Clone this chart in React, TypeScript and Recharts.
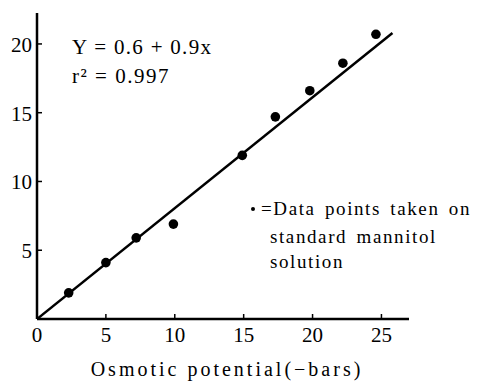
import React from "react"
import { ScatterChart, Scatter, XAxis, YAxis } from "recharts"

// Measured points (osmotic potential in -bars vs. reading)
const xValues = [2.3, 5.0, 7.2, 9.9, 14.9, 17.3, 19.8, 22.2, 24.6]
const yValues = [1.9, 4.1, 5.9, 6.9, 11.9, 14.7, 16.6, 18.6, 20.7]

// End points of the fitted line as drawn
const fitX = [0, 25.8]
const fitY = [0, 20.8]

const xTicks = [0, 5, 10, 15, 20, 25]
const yTicks = [5, 10, 15, 20]

const points = xValues.map((x, i) => ({ x, y: yValues[i] }))
const fitLine = fitX.map((x, i) => ({ x, y: fitY[i] }))

const font = "'Liberation Serif', 'DejaVu Serif', serif"

const XTick = ({ x, y, payload }: any) => (
  <g>
    <line x1={x} x2={x} y1={y} y2={y - 5} stroke="#000" strokeWidth={1.5} />
    <text x={x} y={y + 23} textAnchor="middle" fontSize={21} fontFamily={font} fill="#000">
      {payload.value}
    </text>
  </g>
)

const YTick = ({ x, y, payload }: any) => (
  <g>
    <line x1={x} x2={x + 5} y1={y} y2={y} stroke="#000" strokeWidth={1.5} />
    <text x={x - 5} y={y + 8} textAnchor="end" fontSize={21} fontFamily={font} fill="#000">
      {payload.value}
    </text>
  </g>
)

const Dot = ({ cx, cy }: any) => <circle cx={cx} cy={cy} r={4.8} fill="#000" />
const NoDot = () => <g />

export default function App() {
  return (
    <div style={{ position: "absolute", left: 0, top: 0, width: 478, height: 381, background: "#fff" }}>
      <ScatterChart width={478} height={381} margin={{ top: 13, right: 69, left: 0, bottom: 0 }}>
        <XAxis
          type="number"
          dataKey="x"
          domain={[0, 27]}
          ticks={xTicks}
          allowDataOverflow
          height={62}
          tickSize={0}
          tickMargin={0}
          tick={<XTick />}
          axisLine={{ stroke: "#000", strokeWidth: 2.5 }}
        />
        <YAxis
          type="number"
          dataKey="y"
          domain={[0, 22.25]}
          ticks={yTicks}
          allowDataOverflow
          width={37}
          tickSize={0}
          tickMargin={0}
          tick={<YTick />}
          axisLine={{ stroke: "#000", strokeWidth: 2.5 }}
        />
        <Scatter
          data={fitLine}
          line={{ stroke: "#000", strokeWidth: 2.5 }}
          shape={<NoDot />}
          isAnimationActive={false}
        />
        <Scatter data={points} shape={<Dot />} isAnimationActive={false} />

        <text x={72} y={54} fontSize={21} fontFamily={font} letterSpacing={1.3} fill="#000">
          Y = 0.6 + 0.9x
        </text>
        <text x={72} y={83} fontSize={21} fontFamily={font} letterSpacing={1.5} fill="#000">
          r² = 0.997
        </text>

        <circle cx={253} cy={209} r={2} fill="#000" />
        <text x={261} y={215} fontSize={19} fontFamily={font} letterSpacing={1.6} wordSpacing={3} fill="#000">
          =Data points taken on
        </text>
        <text x={270} y={243} fontSize={19} fontFamily={font} letterSpacing={1.6} wordSpacing={3} fill="#000">
          standard mannitol
        </text>
        <text x={270} y={268} fontSize={19} fontFamily={font} letterSpacing={1.6} wordSpacing={3} fill="#000">
          solution
        </text>

        <text x={227} y={376} textAnchor="middle" fontSize={20} fontFamily={font} letterSpacing={3} fill="#000">
          Osmotic potential(−bars)
        </text>
      </ScatterChart>
    </div>
  )
}
